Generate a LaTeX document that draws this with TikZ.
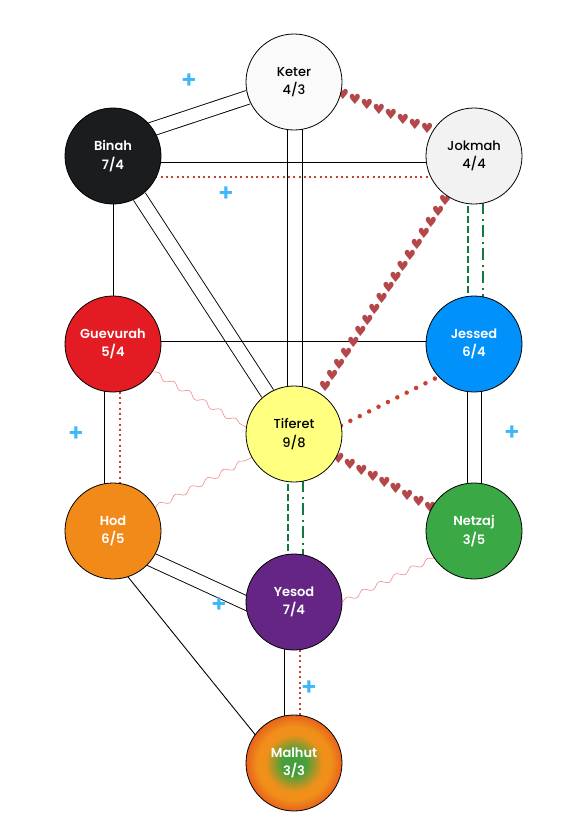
\documentclass[tikz,border=0pt]{standalone}
\usepackage{fontspec}
\setmainfont{Poppins}[BoldFont={* SemiBold}]
\newfontfamily\medfont{Poppins Medium}
\newfontfamily\heartfont{DejaVu Sans}
\usetikzlibrary{calc,backgrounds,decorations.pathmorphing,decorations.markings}

\definecolor{keterfill}{HTML}{FAFAFA}
\definecolor{jokmahfill}{HTML}{F2F2F2}
\definecolor{binahfill}{HTML}{1B1C1E}
\definecolor{guevurahfill}{HTML}{E31B23}
\definecolor{jessedfill}{HTML}{0091FA}
\definecolor{tiferetfill}{HTML}{FFFF80}
\definecolor{hodfill}{HTML}{F28A1A}
\definecolor{netzajfill}{HTML}{3AA844}
\definecolor{yesodfill}{HTML}{642585}
\definecolor{glowgreen}{HTML}{45A03C}
\definecolor{gloworange}{HTML}{F0901A}
\definecolor{glowred}{HTML}{E8621C}
\definecolor{dotred}{HTML}{C9412E}
\definecolor{heartred}{HTML}{B3474A}
\definecolor{dashgreen}{HTML}{137A3D}
\definecolor{wavepink}{HTML}{F08A8A}
\definecolor{plusblue}{HTML}{3FB6F7}

\pgfdeclareradialshading{malhutglow}{\pgfpoint{0bp}{0bp}}{%
  color(0bp)=(glowgreen); color(6bp)=(glowgreen); color(15bp)=(gloworange);
  color(19bp)=(gloworange); color(25bp)=(glowred); color(50bp)=(glowred)}

\begin{document}
\begin{tikzpicture}[x=1pt, y=-1pt,
    sefira/.style={circle, draw=black, line width=0.8pt, minimum size=96pt, inner sep=0pt,
      align=center, text=white, font=\bfseries\fontsize{13}{18.5}\selectfont},
    lightsefira/.style={sefira, text=black, font=\medfont\fontsize{13}{18.5}\selectfont},
    twin/.style={draw=black, line width=0.9pt, double=white, double distance=13pt},
    solidline/.style={draw=black, line width=0.9pt},
    reddots/.style={draw=dotred, line width=2pt, dash pattern=on 2pt off 3.3pt},
    bigdots/.style={draw=dotred, line width=4.5pt, line cap=round, dash pattern=on 0pt off 10.5pt},
    greendash/.style={draw=dashgreen, line width=1.8pt, dash pattern=on 7pt off 3pt},
    greendashdot/.style={draw=dashgreen, line width=1.5pt, dash pattern=on 12pt off 4.5pt on 2pt off 4.5pt},
    wavy/.style={draw=wavepink, line width=0.6pt, decorate,
      decoration={snake, amplitude=2.5pt, segment length=18pt}},
    hearts/.style={decorate, decoration={markings, mark=between positions 0.02 and 1 step 13pt with
      {\node[text=heartred, font=\heartfont\fontsize{14}{14}\selectfont, inner sep=0pt] {♥};}}},
    plussign/.style={text=plusblue, font=\bfseries\fontsize{24}{24}\selectfont, inner sep=0pt}]
    \useasboundingbox (0,0) rectangle (580,836);

    % the ten sefirot
    \node[lightsefira, fill=keterfill] (keter) at (294,82) {Keter\\4/3};
    \node[sefira, fill=binahfill] (binah) at (113,156) {Binah\\7/4};
    \node[lightsefira, fill=jokmahfill] (jokmah) at (474,156) {Jokmah\\4/4};
    \node[sefira, fill=guevurahfill] (guevurah) at (113,344) {Guevurah\\5/4};
    \node[sefira, fill=jessedfill] (jessed) at (474,344) {Jessed\\6/4};
    \node[lightsefira, fill=tiferetfill] (tiferet) at (294,434) {Tiferet\\9/8};
    \node[sefira, fill=hodfill] (hod) at (113,531) {Hod\\6/5};
    \node[sefira, fill=netzajfill] (netzaj) at (474,531) {Netzaj\\3/5};
    \node[sefira, fill=yesodfill] (yesod) at (294,602) {Yesod\\7/4};
    \node[sefira, shade, shading=malhutglow] (malhut) at (294,763) {Malhut\\3/3};

    \node[plussign] (plus1) at (189,81) {+};
    \node[plussign] (plus2) at (226,194) {+};
    \node[plussign] (plus3) at (76,434) {+};
    \node[plussign] (plus4) at (512,433) {+};
    \node[plussign] (plus5) at (219,605) {+};
    \node[plussign] (plus6) at (309,688) {+};

    \begin{scope}[on background layer]
        % double paths
        \path[twin] ($(binah)+(0,-14)$) -- (keter);
        \path[solidline] ($(keter)+(-7,0)$) -- ($(tiferet)+(-7,0)$);
        \path[solidline] ($(keter)+(8,0)$) -- ($(tiferet)+(8,0)$);
        \path[twin] (binah) -- (tiferet);
        \path[solidline] ($(jessed)+(-7,0)$) -- ($(netzaj)+(-7,0)$);
        \path[solidline] ($(jessed)+(7,0)$) -- ($(netzaj)+(7,0)$);
        \path[twin] ($(hod)+(0,11)$) -- ($(yesod)+(0,23)$);
        % single paths
        \path[solidline] ($(binah)+(0,6)$) -- ($(jokmah)+(0,6)$);
        \path[reddots] ($(binah)+(0,21)$) -- ($(jokmah)+(0,21)$);
        \path[solidline] (binah) -- (guevurah);
        \path[solidline] ($(guevurah)+(0,-3)$) -- ($(jessed)+(0,-3)$);
        \path[solidline] ($(guevurah)+(-9,0)$) -- ($(hod)+(-9,0)$);
        \path[reddots] ($(guevurah)+(7,0)$) -- ($(hod)+(7,0)$);
        \path[greendash] ($(jokmah)+(-6,0)$) -- ($(jessed)+(-6,0)$);
        \path[greendashdot] ($(jokmah)+(9,0)$) -- ($(jessed)+(9,0)$);
        \path[greendash] ($(tiferet)+(-6,0)$) -- ($(yesod)+(-6,0)$);
        \path[greendashdot] ($(tiferet)+(9,0)$) -- ($(yesod)+(9,0)$);
        \path[solidline] ($(yesod)+(-10,0)$) -- ($(malhut)+(-10,0)$);
        \path[reddots] ($(yesod)+(6,0)$) -- ($(malhut)+(6,0)$);
        \path[solidline] ($(hod)+(-22,0)$) -- ($(malhut)+(-16,0)$);
        \path[bigdots] ($(tiferet)+(0,15)$) -- ($(jessed)+(0,15)$);
        % hearts
        \path[hearts] (keter.-14) -- (jokmah.149);
        \path[hearts] (jokmah) -- (tiferet);
        \path[hearts] (tiferet) -- (netzaj);
        % waves
        \path[wavy] (guevurah.-35) -- (tiferet.172);
        \path[wavy] (hod.29) -- (tiferet.209);
        \path[wavy] (yesod.east) -- (netzaj.214);
    \end{scope}
\end{tikzpicture}
\end{document}
